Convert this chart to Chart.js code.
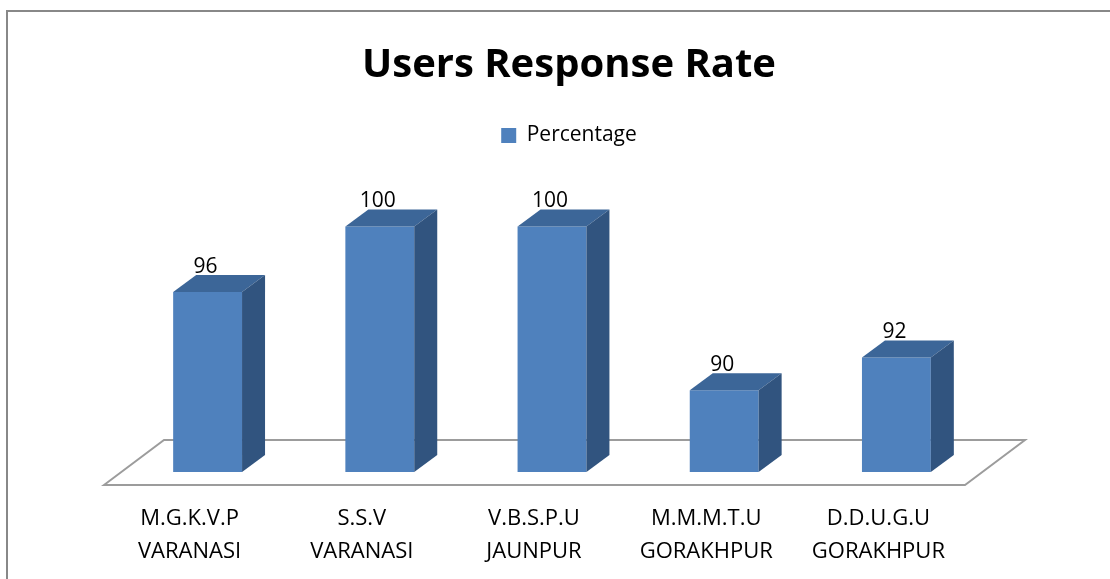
<!DOCTYPE html>
<html lang="en">
<head>
  <meta charset="UTF-8">
  <title>Users Response Rate</title>
  <script src="https://cdn.jsdelivr.net/npm/chart.js"></script>
  <style>
    html, body { margin: 0; padding: 0; background: #fff; overflow: hidden; }
    .frame {
      position: absolute; left: 6px; top: 10px;
      width: 1300px; height: 800px;
      border-left: 2px solid #888; border-top: 2px solid #888;
    }
    .wrap { position: absolute; left: 0; top: 0; width: 1110px; height: 579px; }
  </style>
</head>
<body>
  <div class="frame"></div>
  <div class="wrap"><canvas id="myChart" width="1110" height="579"></canvas></div>

  <script>
    // datos del grafico
    const categorias = [
      ['M.G.K.V.P', 'VARANASI'],
      ['S.S.V', 'VARANASI'],
      ['V.B.S.P.U', 'JAUNPUR'],
      ['M.M.M.T.U', 'GORAKHPUR'],
      ['D.D.U.G.U', 'GORAKHPUR']
    ];
    const porcentaje = [96, 100, 100, 90, 92];
    const ejeMin = 85;
    const ejeMax = 104.3;

    const fuente = '"Open Sans", Lato, sans-serif';

    // profundidad 3D de las barras
    const dx = 23, dy = -17;

    // piso en perspectiva + caras 3D + etiquetas
    const bar3d = {
      id: 'bar3d',
      beforeDatasetsDraw(chart) {
        const { ctx, chartArea: a } = chart;
        const base = chart.scales.y.getPixelForValue(ejeMin);
        ctx.save();
        ctx.strokeStyle = '#9c9c9c';
        ctx.lineWidth = 2;
        ctx.beginPath();
        ctx.moveTo(a.left - 17.5, base + 13);
        ctx.lineTo(a.left - 17.5 + 60, base - 32);
        ctx.lineTo(a.right - 17.5 + 60, base - 32);
        ctx.lineTo(a.right - 17.5, base + 13);
        ctx.closePath();
        ctx.stroke();
        ctx.restore();
      },
      afterDatasetsDraw(chart) {
        const { ctx } = chart;
        const base = chart.scales.y.getPixelForValue(ejeMin);
        const meta = chart.getDatasetMeta(0);
        ctx.save();
        meta.data.forEach((bar, i) => {
          const l = bar.x - bar.width / 2, r = bar.x + bar.width / 2;
          const t = bar.y, b = base;
          // cara superior
          ctx.fillStyle = '#3c6698';
          ctx.beginPath();
          ctx.moveTo(l, t); ctx.lineTo(r, t);
          ctx.lineTo(r + dx, t + dy); ctx.lineTo(l + dx, t + dy);
          ctx.closePath(); ctx.fill();
          // cara lateral
          ctx.fillStyle = '#31547f';
          ctx.beginPath();
          ctx.moveTo(r, t); ctx.lineTo(r + dx, t + dy);
          ctx.lineTo(r + dx, b + dy); ctx.lineTo(r, b);
          ctx.closePath(); ctx.fill();
          // etiqueta de valor
          ctx.fillStyle = '#000';
          ctx.font = '21px ' + fuente;
          ctx.textAlign = 'center';
          ctx.textBaseline = 'alphabetic';
          ctx.fillText(String(porcentaje[i]), bar.x - 2, t - 19);
        });
        ctx.restore();
      }
    };

    const ctx1 = document.getElementById('myChart').getContext('2d');
    const myChart = new Chart(ctx1, {
      type: 'bar',
      data: {
        labels: categorias,
        datasets: [{
          label: 'Percentage',
          data: porcentaje,
          backgroundColor: '#4f81bd',
          borderWidth: 0,
          barPercentage: 0.4,
          categoryPercentage: 1.0
        }]
      },
      options: {
        responsive: false,
        animation: false,
        layout: {
          padding: { left: 121.5, right: 93.5, top: 42, bottom: 0 }
        },
        scales: {
          x: {
            grid: { display: false, drawTicks: false },
            border: { display: false },
            ticks: {
              color: '#000',
              font: { family: fuente, size: 22, lineHeight: 1.5 },
              padding: 30,
              labelOffset: -18,
              maxRotation: 0,
              autoSkip: false
            },
            afterFit(axis) { axis.height = 107; }
          },
          y: {
            display: true,
            position: 'right',
            min: ejeMin,
            max: ejeMax,
            grid: { display: false, drawTicks: false },
            border: { display: false },
            ticks: { display: false },
            afterFit(axis) { axis.width = 34; }
          }
        },
        plugins: {
          title: {
            display: true,
            text: 'Users Response Rate',
            color: '#000',
            font: { family: fuente, size: 40, weight: 'bold', lineHeight: 1.2 },
            padding: { top: 0, bottom: 25 }
          },
          legend: {
            display: true,
            position: 'top',
            labels: {
              color: '#000',
              font: { family: fuente, size: 21 },
              boxWidth: 15,
              boxHeight: 15,
              padding: 10
            }
          },
          tooltip: { enabled: false }
        }
      },
      plugins: [bar3d]
    });
  </script>
</body>
</html>
